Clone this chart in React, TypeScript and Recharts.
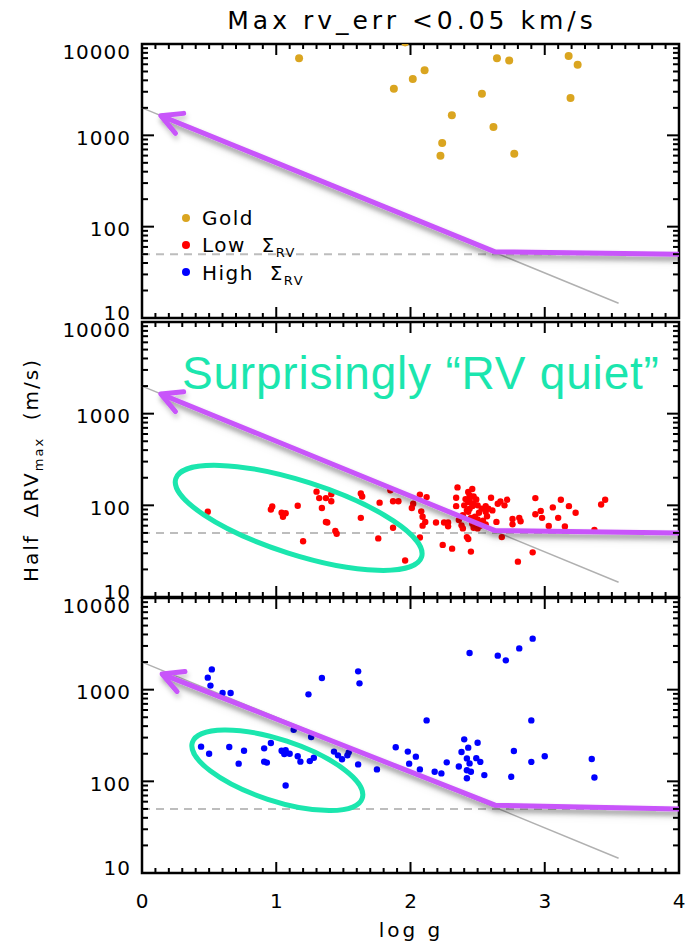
import React from 'react';
import { ScatterChart, Scatter, XAxis, YAxis, ReferenceLine, ReferenceArea } from 'recharts';

// ---------- data ----------
const goldPoints: [number, number][] = [
  [1.17, 6970], [1.96, 10400], [1.876, 3240], [2.017, 4140], [2.105, 5150], [2.308, 1660],
  [2.236, 826], [2.223, 596], [2.532, 2860], [2.618, 1236], [2.644, 6970], [2.735, 6580],
  [2.773, 627], [3.178, 7390], [3.245, 5940], [3.192, 2565],
];

const redPoints: [number, number][] = [
  [0.49, 85], [0.97, 97], [0.96, 90], [1.04, 83], [1.07, 82], [1.05, 75], [1.16, 99], [1.2, 40.5],
  [1.3, 141], [1.32, 120], [1.34, 93.5], [1.37, 120], [1.41, 132], [1.41, 111], [1.37, 66], [1.38, 65],
  [1.44, 52.5], [1.45, 49], [1.63, 135], [1.64, 125], [1.63, 73], [1.76, 43.6], [1.77, 107], [1.85, 146],
  [1.87, 111], [1.91, 111], [1.87, 57], [1.96, 25], [2.01, 93.5], [2.02, 104], [2.07, 131], [2.12, 123],
  [2.08, 86], [2.09, 75], [2.11, 66], [2.09, 60], [2.07, 44.5], [2.19, 65], [2.24, 37], [2.25, 65],
  [2.28, 65], [2.28, 59], [2.31, 33.7], [2.35, 157], [2.34, 121], [2.34, 98], [2.39, 56], [2.36, 69],
  [2.38, 60.5], [2.41, 117], [2.43, 140], [2.46, 151], [2.43, 109], [2.44, 92], [2.43, 85], [2.46, 98],
  [2.49, 116], [2.5, 100], [2.51, 83], [2.48, 75], [2.46, 63], [2.42, 45], [2.43, 43], [2.45, 31.3],
  [2.5, 56], [2.47, 57], [2.53, 92], [2.56, 85], [2.56, 98], [2.58, 92], [2.61, 88], [2.6, 121],
  [2.57, 76], [2.54, 68], [2.56, 62], [2.64, 66], [2.65, 104], [2.67, 110], [2.7, 100], [2.72, 115],
  [2.68, 45], [2.76, 71], [2.76, 62], [2.81, 73], [2.82, 67], [2.8, 24.3], [2.91, 30.7], [2.93, 120],
  [2.93, 80], [2.98, 73], [2.97, 87], [3.03, 59.6], [3.06, 95], [3.1, 73], [3.12, 115], [3.18, 98],
  [3.15, 58.8], [3.23, 83], [3.37, 54], [3.42, 102], [3.45, 115],
  [2.4, 100], [2.44, 128], [2.47, 125], [2.42, 88], [2.5, 70], [2.45, 73], [2.52, 60], [2.39, 78],
  [2.47, 105], [2.44, 115],
];

const bluePoints: [number, number][] = [
  [0.52, 1664], [0.49, 1352], [0.51, 1107], [0.6, 920], [0.66, 920], [0.44, 239], [0.5, 200], [0.65, 237],
  [0.72, 156], [0.76, 216], [0.91, 229], [0.91, 164], [0.93, 160], [0.96, 262], [1.04, 216], [1.06, 199],
  [1.07, 218], [1.1, 200], [1.05, 212], [1.07, 90], [1.13, 366], [1.16, 188], [1.18, 164], [1.24, 889],
  [1.26, 305], [1.25, 166], [1.28, 181], [1.34, 1343], [1.43, 211], [1.46, 192], [1.49, 174], [1.53, 192],
  [1.54, 207], [1.61, 1585], [1.62, 1172], [1.61, 153], [1.75, 135], [1.89, 235], [1.98, 211], [1.99, 156],
  [2.04, 186], [2.07, 135],
  [2.44, 2512], [2.65, 2350], [2.71, 2088], [2.81, 2820], [2.91, 3600], [2.12, 462], [2.9, 462], [2.18, 127],
  [2.23, 122], [2.27, 161], [2.36, 145], [2.4, 287], [2.43, 233], [2.38, 209], [2.42, 178], [2.44, 157],
  [2.42, 132], [2.45, 127], [2.42, 108], [2.5, 264], [2.49, 179], [2.52, 163], [2.55, 117], [2.77, 214],
  [2.75, 112], [2.9, 163], [3.0, 188], [3.35, 175], [3.37, 110],
];

// relation lines
const grayLine: [number, number][] = [[0, 2000], [3.55, 14.5]];
const floorLevel = 50;
const arrowUpper: [number, number][] = [[0.14, 1640], [2.63, 53], [4, 50]];
const arrowLower: [number, number][] = [[0.15, 1480], [2.63, 55], [4, 50]];
// annotation ellipse centres (logg, m/s)
const ellipseMid: [number, number] = [1.167, 73];
const ellipseLow: [number, number] = [1.008, 132];

const X_TICKS = [
  0, 0.1, 0.2, 0.3, 0.4, 0.5, 0.6, 0.7, 0.8, 0.9, 1, 1.1, 1.2, 1.3, 1.4, 1.5, 1.6, 1.7, 1.8, 1.9, 2,
  2.1, 2.2, 2.3, 2.4, 2.5, 2.6, 2.7, 2.8, 2.9, 3, 3.1, 3.2, 3.3, 3.4, 3.5, 3.6, 3.7, 3.8, 3.9, 4,
];
const X_LABELS = [0, 1, 2, 3, 4];
const Y_TICKS = [
  10, 20, 30, 40, 50, 60, 70, 80, 90, 100, 200, 300, 400, 500, 600, 700, 800, 900,
  1000, 2000, 3000, 4000, 5000, 6000, 7000, 8000, 9000, 10000,
];
const Y_LABELS = [10, 100, 1000, 10000];

// ---------- style ----------
const FONT = '"DejaVu Sans", sans-serif';
const PLOT_L = 142;
const PLOT_R = 679;
const PURPLE = '#C855FA';
const MINT = '#1BE6AE';
const GOLD = '#DAA520';

const toPts = (a: [number, number][]) => a.map(([x, y]) => ({ x, y }));

const YTick = (props: any) => {
  const { y, payload } = props;
  const v = payload.value;
  const major = Y_LABELS.includes(v);
  const len = major ? 12 : 6;
  const dy = v === 10000 ? 15 : v === 10 ? 2 : 9.5;
  return (
    <g>
      <line x1={PLOT_L} x2={PLOT_L + len} y1={y} y2={y} stroke="#000" strokeWidth={2} />
      <line x1={PLOT_R - len} x2={PLOT_R} y1={y} y2={y} stroke="#000" strokeWidth={2} />
      {major && (
        <text x={131} y={y + dy} textAnchor="end" fontSize={20} letterSpacing={1} fontFamily={FONT} fill="#000">
          {v}
        </text>
      )}
    </g>
  );
};

const makeXTick = (h: number, labels: boolean) => (props: any) => {
  const { x, payload } = props;
  const v = payload.value;
  const major = X_LABELS.includes(v);
  const len = major ? 11 : 5;
  const top = 10;
  const bottom = 10 + h;
  return (
    <g>
      <line x1={x} x2={x} y1={top} y2={top + len} stroke="#000" strokeWidth={2} />
      <line x1={x} x2={x} y1={bottom - len} y2={bottom} stroke="#000" strokeWidth={2} />
      {labels && major && (
        <text x={x} y={bottom + 35} textAnchor="middle" fontSize={20} fontFamily={FONT} fill="#000">
          {v}
        </text>
      )}
    </g>
  );
};

const dotShape = (r: number, color: string) => (p: any) => <circle cx={p.cx} cy={p.cy} r={r} fill={color} />;

const makeArrowShape = (h: number, pts: [number, number][]) => (p: any) => {
  if (!p.payload || !p.payload.head) return <g />;
  const pxPerUnit = (PLOT_R - PLOT_L) / 4;
  const pxPerDecade = h / 3;
  const dx = (pts[1][0] - pts[0][0]) * pxPerUnit;
  const dy = (Math.log10(pts[0][1]) - Math.log10(pts[1][1])) * pxPerDecade;
  const a = Math.atan2(dy, dx);
  const spread = (28 * Math.PI) / 180;
  const L = 23;
  const w1 = [p.cx + L * Math.cos(a - spread), p.cy + L * Math.sin(a - spread)];
  const w2 = [p.cx + L * Math.cos(a + spread), p.cy + L * Math.sin(a + spread)];
  return (
    <polyline
      points={`${w1[0]},${w1[1]} ${p.cx},${p.cy} ${w2[0]},${w2[1]}`}
      fill="none"
      stroke={PURPLE}
      strokeWidth={5}
      strokeLinecap="round"
      strokeLinejoin="round"
    />
  );
};

const makeEllipse = (rx: number, ry: number, ang: number) => (p: any) => (
  <ellipse
    cx={p.cx}
    cy={p.cy}
    rx={rx}
    ry={ry}
    transform={`rotate(${ang} ${p.cx} ${p.cy})`}
    fill="none"
    stroke={MINT}
    strokeWidth={5}
  />
);

type PanelProps = {
  top: number;
  h: number;
  points: [number, number][];
  color: string;
  r: number;
  showX: boolean;
  arrow: [number, number][];
  ellipse?: { c: [number, number]; rx: number; ry: number; ang: number };
};

function Panel({ top, h, points, color, r, showX, arrow, ellipse }: PanelProps) {
  const xh = showX ? 73 : 10;
  const arrowData = arrow.map(([x, y], i) => ({ x, y, head: i === 0 }));
  return (
    <div style={{ position: 'absolute', left: 0, top: top - 10 }}>
      <ScatterChart width={694} height={10 + h + xh} margin={{ top: 10, right: 15, bottom: 0, left: 0 }}>
        <XAxis
          type="number"
          dataKey="x"
          domain={[0, 4]}
          ticks={X_TICKS}
          interval={0}
          allowDataOverflow
          height={xh}
          axisLine={false}
          tickLine={false}
          tick={makeXTick(h, showX)}
        />
        <YAxis
          type="number"
          dataKey="y"
          scale="log"
          domain={[10, 10000]}
          ticks={Y_TICKS}
          interval={0}
          allowDataOverflow
          width={142}
          axisLine={false}
          tickLine={false}
          tick={YTick}
        />
        <ReferenceLine y={floorLevel} stroke="#BDBDBD" strokeWidth={2} strokeDasharray="8 6" />
        <ReferenceLine
          segment={grayLine.map(([x, y]) => ({ x, y }))}
          stroke="#B0B0B0"
          strokeWidth={1.5}
        />
        <Scatter data={toPts(points)} fill={color} shape={dotShape(r, color)} isAnimationActive={false} />
        {ellipse && (
          <Scatter
            data={toPts([ellipse.c])}
            shape={makeEllipse(ellipse.rx, ellipse.ry, ellipse.ang)}
            isAnimationActive={false}
          />
        )}
        <Scatter
          className="purple-arrow"
          data={arrowData}
          line={{ stroke: PURPLE, strokeWidth: 5, strokeLinejoin: 'round' } as any}
          lineType="joint"
          shape={makeArrowShape(h, arrow)}
          isAnimationActive={false}
        />
        <ReferenceArea x1={0} x2={4} y1={10} y2={10000} fill="none" fillOpacity={0} stroke="#000" strokeWidth={2.5} ifOverflow="visible" />
      </ScatterChart>
    </div>
  );
}

export default function App() {
  return (
    <div style={{ position: 'absolute', left: 0, top: 0, width: 694, height: 946, background: '#fff', fontFamily: FONT }}>
      <style>{`.purple-arrow { filter: url(#pshadow); }`}</style>
      <svg width={0} height={0} style={{ position: 'absolute' }}>
        <defs>
          <filter id="pshadow" filterUnits="userSpaceOnUse" x={0} y={0} width={694} height={946}>
            <feDropShadow dx={1} dy={4} stdDeviation={2.5} floodColor="#000" floodOpacity={0.22} />
          </filter>
        </defs>
      </svg>
      <Panel top={44} h={274} points={goldPoints} color={GOLD} r={4} showX={false} arrow={arrowUpper} />
      <Panel
        top={322}
        h={275}
        points={redPoints}
        color="#FF0000"
        r={3.2}
        showX={false}
        arrow={arrowUpper}
        ellipse={{ c: ellipseMid, rx: 129, ry: 36.7, ang: 17.7 }}
      />
      <Panel
        top={598}
        h={275}
        points={bluePoints}
        color="#0000FF"
        r={3.2}
        showX={true}
        arrow={arrowLower}
        ellipse={{ c: ellipseLow, rx: 89.4, ry: 30.6, ang: 18.2 }}
      />
      <svg width={694} height={946} style={{ position: 'absolute', left: 0, top: 0, pointerEvents: 'none' }}>
        <text x={412} y={29} textAnchor="middle" fontSize={25} letterSpacing={4} fontFamily={FONT} fill="#000">
          Max rv_err &lt;0.05 km/s
        </text>
        <text
          transform="translate(38,470) rotate(-90)"
          textAnchor="middle"
          fontSize={20}
          letterSpacing={2}
          fontFamily={FONT}
          fill="#000"
          style={{ whiteSpace: 'pre' }}
        >
          {'Half  ΔRV'}
          <tspan fontSize={13} dy={5}>max</tspan>
          <tspan dy={-5}>{'  (m/s)'}</tspan>
        </text>
        <text x={411} y={937} textAnchor="middle" fontSize={20} letterSpacing={3} fontFamily={FONT} fill="#000">
          log g
        </text>
        {/* legend */}
        <circle cx={186} cy={218} r={4} fill={GOLD} />
        <circle cx={186} cy={245} r={4} fill="#FF0000" />
        <circle cx={186} cy={272} r={4} fill="#0000FF" />
        <text x={202} y={225} fontSize={20} letterSpacing={1.5} fontFamily={FONT} fill="#000">Gold</text>
        <text x={202} y={252} fontSize={20} letterSpacing={1.5} fontFamily={FONT} fill="#000" style={{ whiteSpace: 'pre' }}>
          {'Low  Σ'}
          <tspan fontSize={13} dy={5}>RV</tspan>
        </text>
        <text x={202} y={280} fontSize={20} letterSpacing={1.5} fontFamily={FONT} fill="#000" style={{ whiteSpace: 'pre' }}>
          {'High  Σ'}
          <tspan fontSize={13} dy={5}>RV</tspan>
        </text>
        <text x={182} y={389} fontSize={46} letterSpacing={0.8} fontFamily='"Liberation Sans", Arial, sans-serif' fill={MINT}>
          Surprisingly “RV quiet”
        </text>
      </svg>
    </div>
  );
}
